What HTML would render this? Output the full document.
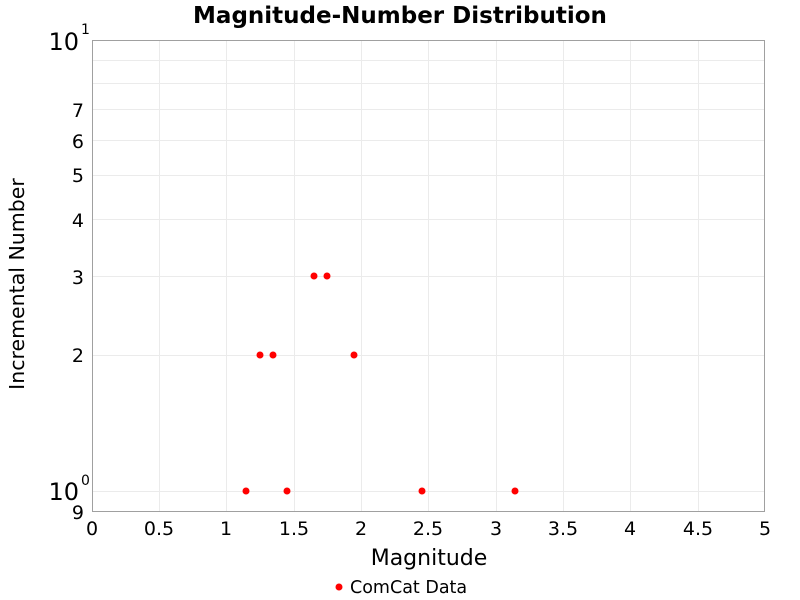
<!DOCTYPE html>
<html><head><meta charset="utf-8"><style>body{margin:0;background:#fff}svg{display:block}text{font-family:"DejaVu Sans","Liberation Sans",sans-serif}</style></head><body>
<svg width="800" height="600" xmlns="http://www.w3.org/2000/svg">
<g stroke="#ebebeb" stroke-width="1">
<line x1="159.5" y1="40" x2="159.5" y2="512"/><line x1="226.5" y1="40" x2="226.5" y2="512"/><line x1="294.5" y1="40" x2="294.5" y2="512"/><line x1="361.5" y1="40" x2="361.5" y2="512"/><line x1="428.5" y1="40" x2="428.5" y2="512"/><line x1="496.5" y1="40" x2="496.5" y2="512"/><line x1="563.5" y1="40" x2="563.5" y2="512"/><line x1="630.5" y1="40" x2="630.5" y2="512"/><line x1="698.5" y1="40" x2="698.5" y2="512"/>
<line x1="92" y1="491.5" x2="765" y2="491.5"/><line x1="92" y1="355.5" x2="765" y2="355.5"/><line x1="92" y1="276.5" x2="765" y2="276.5"/><line x1="92" y1="219.5" x2="765" y2="219.5"/><line x1="92" y1="175.5" x2="765" y2="175.5"/><line x1="92" y1="140.5" x2="765" y2="140.5"/><line x1="92" y1="109.5" x2="765" y2="109.5"/><line x1="92" y1="83.5" x2="765" y2="83.5"/><line x1="92" y1="60.5" x2="765" y2="60.5"/>
</g>
<rect x="92.5" y="40.5" width="672" height="471" fill="none" stroke="#a0a0a0"/>
<text x="400" y="23" text-anchor="middle" font-size="23" font-weight="bold">Magnitude-Number Distribution</text>
<g font-size="19" text-anchor="end">
<text x="84" y="117">7</text><text x="84" y="148">6</text><text x="84" y="182">5</text><text x="84" y="227">4</text><text x="84" y="284">3</text><text x="84" y="362">2</text><text x="84" y="519">9</text>
<text x="79" y="50" font-size="24">10</text><text x="79" y="500" font-size="24">10</text>
</g>
<text x="81" y="34" font-size="14">1</text><text x="81" y="485" font-size="14">0</text>
<g font-size="19" text-anchor="middle">
<text x="92" y="535">0</text><text x="159" y="535">0.5</text><text x="226" y="535">1</text><text x="294" y="535">1.5</text><text x="361" y="535">2</text><text x="428" y="535">2.5</text><text x="496" y="535">3</text><text x="563" y="535">3.5</text><text x="630" y="535">4</text><text x="698" y="535">4.5</text><text x="765" y="535">5</text>
</g>
<text x="429" y="565" text-anchor="middle" font-size="22">Magnitude</text>
<text transform="translate(24,284) rotate(-90)" text-anchor="middle" font-size="20.5">Incremental Number</text>
<g fill="#ff0000">
<circle cx="246" cy="491" r="3.5"/><circle cx="287" cy="491" r="3.5"/><circle cx="422" cy="491" r="3.5"/><circle cx="515" cy="491" r="3.5"/>
<circle cx="260" cy="355" r="3.5"/><circle cx="273" cy="355" r="3.5"/><circle cx="354" cy="355" r="3.5"/>
<circle cx="314" cy="276" r="3.5"/><circle cx="327" cy="276" r="3.5"/>
<circle cx="339" cy="587" r="3.5"/>
</g>
<text x="350" y="593" font-size="17.5">ComCat Data</text>
</svg>
</body></html>
